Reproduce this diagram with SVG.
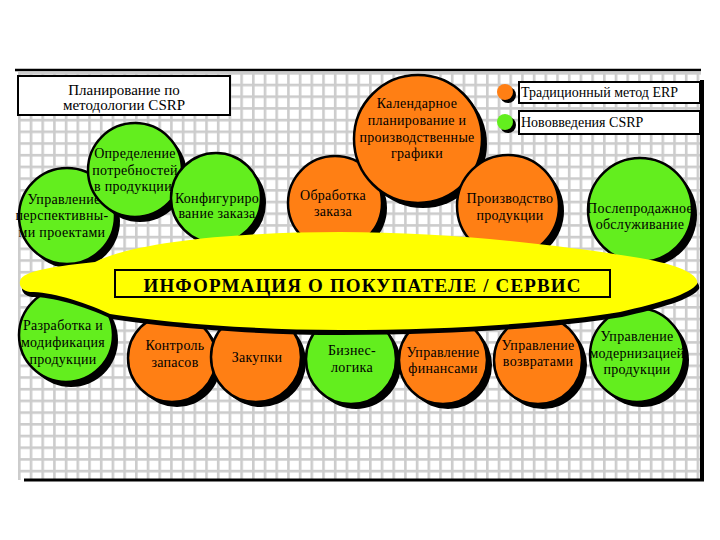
<svg xmlns="http://www.w3.org/2000/svg" width="720" height="540" viewBox="0 0 720 540">
<defs>
<pattern id="grid" x="18" y="72" width="11.7" height="11.7" patternUnits="userSpaceOnUse">
<rect width="11.7" height="11.7" fill="#ffffff"/>
<rect x="0" y="0" width="2.6" height="11.7" fill="#cccccc"/>
<rect x="0" y="0" width="11.7" height="2.6" fill="#cccccc"/>
</pattern>
</defs>
<style>
.sh{fill:#000}
.or{fill:#FF7F14;stroke:#000;stroke-width:2.5}
.gr{fill:#63EE1E;stroke:#000;stroke-width:2.5}
.t{font-family:"Liberation Serif","DejaVu Serif",serif;font-size:14px;letter-spacing:0.3px;fill:#000;text-anchor:middle}
.lg{font-family:"Liberation Serif","DejaVu Serif",serif;font-size:14px;fill:#000}
.tt{font-family:"Liberation Serif","DejaVu Serif",serif;font-size:15px;fill:#000;text-anchor:middle}
.box{fill:#fff;stroke:#000;stroke-width:2}
</style>
<rect width="720" height="540" fill="#fff"/>
<rect x="18" y="72" width="683" height="408" fill="url(#grid)"/>
<line x1="15" y1="70" x2="701" y2="70" stroke="#000" stroke-width="2.5"/>
<line x1="24" y1="480" x2="704" y2="480" stroke="#000" stroke-width="3"/>
<line x1="702" y1="80" x2="702" y2="481" stroke="#000" stroke-width="4"/>

<g id="title">
<rect class="box" x="18" y="76" width="212" height="39"/>
<text class="tt" x="124" y="95">Планирование по</text>
<text class="tt" x="124" y="110">методологии CSRP</text>
</g>

<g id="legend">
<circle class="sh" cx="508" cy="95" r="8"/>
<circle cx="505" cy="92" r="8" fill="#FF7F14"/>
<rect class="box" x="519" y="82" width="181" height="21"/>
<text class="lg" x="521" y="97">Традиционный метод ERP</text>
<circle class="sh" cx="508" cy="125" r="8"/>
<circle cx="505" cy="122" r="8" fill="#63EE1E"/>
<rect class="box" x="519" y="111" width="181" height="23"/>
<text class="lg" x="521" y="127">Нововведения CSRP</text>
</g>

<g id="n-obrabotka">
<circle class="sh" cx="340" cy="208" r="47"/>
<circle class="or" cx="335" cy="203" r="47"/>
<text class="t" x="333" y="200">Обработка</text>
<text class="t" x="333" y="216">заказа</text>
</g>
<g id="n-kalendar">
<circle class="sh" cx="423" cy="144" r="64"/>
<circle class="or" cx="418" cy="139" r="64"/>
<text class="t" x="417" y="108">Календарное</text>
<text class="t" x="417" y="125">планирование и</text>
<text class="t" x="417" y="142">производственные</text>
<text class="t" x="417" y="158">графики</text>
</g>
<g id="n-proizvodstvo">
<circle class="sh" cx="513" cy="211" r="51"/>
<circle class="or" cx="508" cy="206" r="51"/>
<text class="t" x="510" y="203">Производство</text>
<text class="t" x="510" y="220">продукции</text>
</g>
<g id="n-poslepr">
<circle class="sh" cx="645" cy="215" r="52"/>
<circle class="gr" cx="640" cy="210" r="52"/>
<text class="t" x="640" y="213">Послепродажное</text>
<text class="t" x="640" y="229">обслуживание</text>
</g>
<g id="n-upr-persp">
<circle class="sh" cx="72" cy="221" r="48"/>
<circle class="gr" cx="67" cy="216" r="48"/>
<text class="t" x="64" y="204">Управление</text>
<text class="t" x="62" y="220">перспективны-</text>
<text class="t" x="62" y="237">ми проектами</text>
</g>
<g id="n-opredelenie">
<circle class="sh" cx="140" cy="175" r="47"/>
<circle class="gr" cx="135" cy="170" r="47"/>
<text class="t" x="135" y="158">Определение</text>
<text class="t" x="135" y="175">потребностей</text>
<text class="t" x="133" y="191">в продукции</text>
</g>
<g id="n-konfig">
<circle class="sh" cx="221" cy="203" r="45"/>
<circle class="gr" cx="216" cy="198" r="45"/>
<text class="t" x="217" y="203">Конфигуриро</text>
<text class="t" x="217" y="218">вание заказа</text>
</g>

<g id="n-razrabotka">
<circle class="sh" cx="71" cy="340" r="47"/>
<circle class="gr" cx="66" cy="335" r="47"/>
<text class="t" x="63" y="330">Разработка и</text>
<text class="t" x="63" y="347">модификация</text>
<text class="t" x="63" y="364">продукции</text>
</g>
<g id="n-kontrol">
<circle class="sh" cx="177" cy="363" r="44"/>
<circle class="or" cx="172" cy="358" r="44"/>
<text class="t" x="175" y="350">Контроль</text>
<text class="t" x="175" y="367">запасов</text>
</g>
<g id="n-zakupki">
<circle class="sh" cx="261" cy="362" r="45"/>
<circle class="or" cx="256" cy="357" r="45"/>
<text class="t" x="257" y="362">Закупки</text>
</g>
<g id="n-biznes">
<circle class="sh" cx="356" cy="364" r="45"/>
<circle class="gr" cx="351" cy="359" r="45"/>
<text class="t" x="352" y="355">Бизнес-</text>
<text class="t" x="352" y="372">логика</text>
</g>
<g id="n-finansy">
<circle class="sh" cx="448" cy="365" r="44"/>
<circle class="or" cx="443" cy="360" r="44"/>
<text class="t" x="443" y="357">Управление</text>
<text class="t" x="443" y="373">финансами</text>
</g>
<g id="n-vozvraty">
<circle class="sh" cx="543" cy="365" r="44"/>
<circle class="or" cx="538" cy="360" r="44"/>
<text class="t" x="538" y="350">Управление</text>
<text class="t" x="538" y="366">возвратами</text>
</g>
<g id="n-modern">
<circle class="sh" cx="642" cy="360" r="47"/>
<circle class="gr" cx="637" cy="355" r="47"/>
<text class="t" x="637" y="341">Управление</text>
<text class="t" x="637" y="358">модернизацией</text>
<text class="t" x="637" y="374">продукции</text>
</g>

<g id="band">
<path transform="translate(2,5)" fill="#000" d="M20 281 C22 270 60 266 95 262 C140 240 250 232 340 232 C450 232 560 245 640 258 C680 265 700 275 697 284 C690 294 660 303 620 312 C560 322 460 330 340 330 C250 330 160 322 110 314 C80 300 50 292 30 292 C22 291 19 286 20 281 Z"/>
<path fill="#FFFF00" d="M20 281 C22 270 60 266 95 262 C140 240 250 232 340 232 C450 232 560 245 640 258 C680 265 700 275 697 284 C690 294 660 303 620 312 C560 322 460 330 340 330 C250 330 160 322 110 314 C80 300 50 292 30 292 C22 291 19 286 20 281 Z"/>
<rect x="115" y="270" width="495" height="27" fill="none" stroke="#000" stroke-width="2"/>
<text x="362" y="292" text-anchor="middle" font-family="Liberation Serif, DejaVu Serif, serif" font-size="19" font-weight="bold" textLength="437" lengthAdjust="spacing">ИНФОРМАЦИЯ О ПОКУПАТЕЛЕ / СЕРВИС</text>
</g>
</svg>
